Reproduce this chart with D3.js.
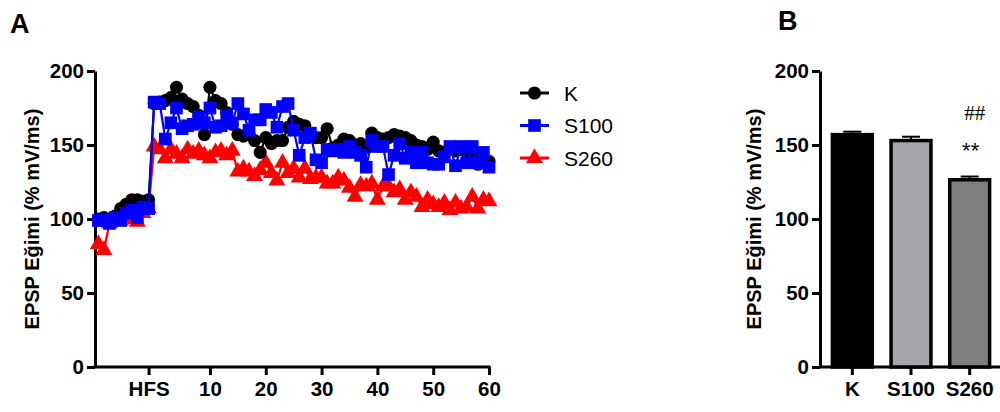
<!DOCTYPE html>
<html>
<head>
<meta charset="utf-8">
<script src="https://cdn.jsdelivr.net/npm/d3@7"></script>
<style>
  body { margin: 0; background: #fff; }
  svg { display: block; }
  .axis path, .axis line { stroke: #000; stroke-width: 3; }
  .axis text { font-family: "Liberation Sans", Arial, sans-serif; font-weight: bold; font-size: 20.5px; fill: #000; }
</style>
</head>
<body>
<div id="chart"></div>
<script>
// time points (minutes): 10 baseline points before HFS, then 0..60 after
const times = d3.range(-10, 0).concat(d3.range(0, 61));

const seriesK = [100, 101, 98, 102, 107, 110, 113, 113, 112, 113,
  178, 179, 180, 182, 189, 181, 178, 176, 170, 157,
  189, 180, 178, 172, 164, 157, 156, 157, 153, 145,
  155, 151, 153, 153, 162, 166, 164, 163, 156, 155,
  155, 161, 148, 150, 154, 153, 150, 151, 148, 158,
  155, 154, 155, 157, 156, 155, 153, 150, 149, 147,
  152, 146, 145, 148, 146, 147, 145, 143, 137, 140, 139];

const seriesS100 = [99, 99, 97, 101, 99, 104, 106, 101, 108, 107,
  179, 178, 154, 165, 175, 161, 163, 164, 169, 165,
  175, 162, 163, 170, 165, 178, 171, 160, 167, 167,
  174, 172, 162, 176, 178, 160, 143, 155, 158, 140,
  138, 147, 146, 147, 145, 149, 145, 143, 135, 153,
  149, 149, 130, 143, 151, 141, 145, 138, 145, 138,
  137, 137, 142, 149, 136, 149, 138, 149, 138, 145, 135];

const seriesS260 = [83, 79, 97, 100, 99, 102, 100, 98, 104, 107,
  149, 147, 141, 147, 144, 141, 147, 144, 146, 143,
  141, 145, 146, 143, 146, 132, 134, 132, 129, 133,
  138, 131, 126, 138, 131, 134, 128, 134, 127, 128,
  128, 124, 124, 128, 126, 121, 115, 123, 122, 124,
  113, 122, 122, 118, 120, 113, 118, 115, 108, 113,
  110, 108, 111, 106, 111, 107, 108, 115, 107, 113, 112];

const xTickValues = [-1, 10, 20, 30, 40, 50, 60];
const xTickLabels = ["HFS", "10", "20", "30", "40", "50", "60"];
const yTicks = [0, 50, 100, 150, 200];

const groups = ["K", "S100", "S260"];
const groupMeans = [157, 153, 126.5];
const groupSem = [2.0, 2.6, 2.2];
const groupFill = ["#000000", "#a5a5aa", "#7f7f7f"];

const W = 1000, H = 412;
const svg = d3.select("#chart").append("svg").attr("width", W).attr("height", H);
const font = '"Liberation Sans", Arial, sans-serif';

// ---------- panel A ----------
const x = d3.scaleLinear().domain([-10.6, 60]).range([95, 489]);
const y = d3.scaleLinear().domain([0, 200]).range([367, 71]);

const gx = svg.append("g").attr("class", "axis")
  .attr("transform", `translate(0,${y(0)})`)
  .call(d3.axisBottom(x).tickValues(xTickValues)
    .tickFormat((d, i) => xTickLabels[i]).tickSize(8).tickSizeOuter(0).tickPadding(6));
gx.select(".domain").attr("d", `M${x.range()[0] - 1.5},0H${x.range()[1] + 1.5}`);

svg.append("g").attr("class", "axis")
  .attr("transform", `translate(${x.range()[0]},0)`)
  .call(d3.axisLeft(y).tickValues(yTicks).tickSize(8).tickSizeOuter(0).tickPadding(3));

svg.append("text")
  .attr("transform", `translate(39,${(y(0) + y(200)) / 2}) rotate(-90)`)
  .attr("text-anchor", "middle")
  .style("font-family", font).style("font-weight", "bold").style("font-size", "20px")
  .text("EPSP Eğimi (% mV/ms)");

const series = [
  { name: "K", values: seriesK, color: "#000000", shape: d3.symbolCircle, size: 135 },
  { name: "S100", values: seriesS100, color: "#0000ff", shape: d3.symbolSquare, size: 160 },
  { name: "S260", values: seriesS260, color: "#ff0000", shape: d3.symbolTriangle, size: 125 }
];

const line = d3.line().x(d => x(d[0])).y(d => y(d[1]));

// S260 underneath, then K, then S100 on top as in the figure
const drawOrder = [series[2], series[0], series[1]];
drawOrder.forEach(s => {
  const pts = times.map((t, i) => [t, s.values[i]]);
  const g = svg.append("g");
  g.append("path").datum(pts)
    .attr("fill", "none").attr("stroke", s.color).attr("stroke-width", 2.2)
    .attr("d", line);
  g.selectAll("path.pt").data(pts).enter().append("path")
    .attr("class", "pt")
    .attr("transform", d => `translate(${x(d[0])},${y(d[1])})`)
    .attr("d", d3.symbol().type(s.shape).size(s.size))
    .attr("fill", s.color);
});

// legend
const legend = svg.append("g").attr("transform", "translate(520,93)");
series.forEach((s, i) => {
  const g = legend.append("g").attr("transform", `translate(0,${i * 32.5})`);
  g.append("line").attr("x1", 0).attr("x2", 29).attr("stroke", s.color).attr("stroke-width", 3);
  g.append("path").attr("transform", "translate(14.5,0)")
    .attr("d", d3.symbol().type(s.shape).size(s.size)).attr("fill", s.color);
  g.append("text").attr("x", 44).attr("dy", "0.36em")
    .style("font-family", font).style("font-size", "21px").text(s.name);
});

svg.append("text").attr("x", 10).attr("y", 33)
  .style("font-family", font).style("font-weight", "bold").style("font-size", "27px").text("A");

// ---------- panel B ----------
const xb = d3.scaleBand().domain(groups).range([823, 999]).paddingInner(0.32).paddingOuter(0.16);
const yb = d3.scaleLinear().domain([0, 200]).range([367, 71]);

svg.append("g").attr("class", "axis")
  .attr("transform", `translate(0,${yb(0)})`)
  .call(d3.axisBottom(xb).tickSize(8).tickSizeOuter(0).tickPadding(6))
  .select(".domain").attr("d", `M${xb.range()[0] - 4},0H${W}`);

svg.append("g").attr("class", "axis")
  .attr("transform", `translate(${xb.range()[0] - 3},0)`)
  .call(d3.axisLeft(yb).tickValues(yTicks).tickSize(8).tickSizeOuter(0).tickPadding(3));

svg.append("text")
  .attr("transform", `translate(761,${(yb(0) + yb(200)) / 2}) rotate(-90)`)
  .attr("text-anchor", "middle")
  .style("font-family", font).style("font-weight", "bold").style("font-size", "20px")
  .text("EPSP Eğimi (% mV/ms)");

const bars = svg.append("g");
groups.forEach((gname, i) => {
  const cx = xb(gname) + xb.bandwidth() / 2;
  // error bar (upper half only)
  bars.append("line").attr("x1", cx).attr("x2", cx)
    .attr("y1", yb(groupMeans[i])).attr("y2", yb(groupMeans[i] + groupSem[i]))
    .attr("stroke", "#000").attr("stroke-width", 2);
  bars.append("line").attr("x1", cx - 9).attr("x2", cx + 9)
    .attr("y1", yb(groupMeans[i] + groupSem[i])).attr("y2", yb(groupMeans[i] + groupSem[i]))
    .attr("stroke", "#000").attr("stroke-width", 2);
  bars.append("rect")
    .attr("x", xb(gname)).attr("width", xb.bandwidth())
    .attr("y", yb(groupMeans[i])).attr("height", yb(0) - yb(groupMeans[i]))
    .attr("fill", groupFill[i]).attr("stroke", "#000").attr("stroke-width", 3.5);
});

const cS260 = xb("S260") + xb.bandwidth() / 2;
svg.append("text").attr("x", cS260 + 1).attr("y", 158).attr("text-anchor", "middle")
  .style("font-family", font).style("font-size", "22px").text("**");
svg.append("text").attr("x", cS260 + 5).attr("y", 120).attr("text-anchor", "middle")
  .style("font-family", '"Liberation Serif", "Times New Roman", serif').style("font-size", "21px").text("##");

svg.append("text").attr("x", 778).attr("y", 30)
  .style("font-family", font).style("font-weight", "bold").style("font-size", "27px").text("B");
</script>
</body>
</html>
